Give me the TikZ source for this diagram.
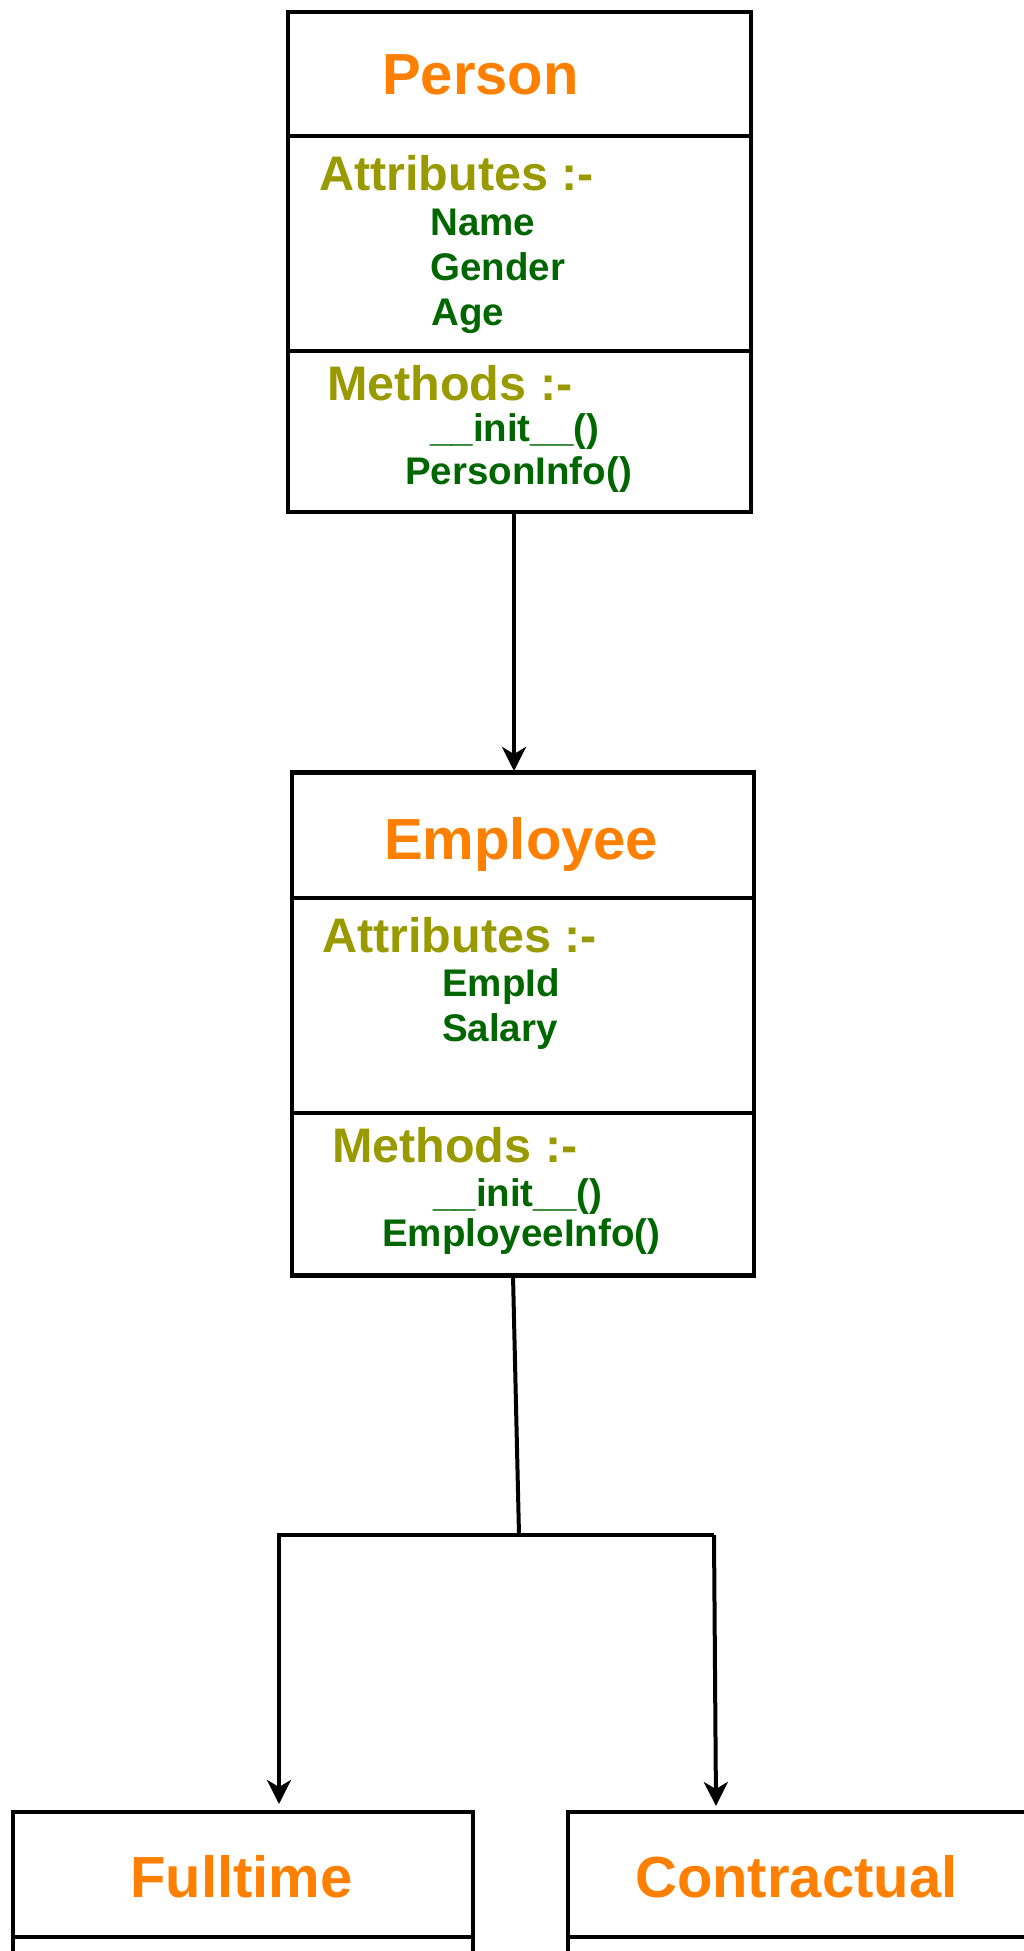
\documentclass[tikz,border=0pt]{standalone}
\usepackage{fontspec}
\setmainfont{Liberation Sans}
\usetikzlibrary{arrows.meta}
\definecolor{ttl}{HTML}{FF8000}
\definecolor{hdr}{HTML}{999900}
\definecolor{itm}{HTML}{006600}
\tikzset{
  box/.style={draw=black, line width=4.5pt, inner sep=0pt},
  divider/.style={line width=4.5pt},
  conn/.style={line width=4pt},
  arr/.style={conn, -{Stealth[length=24pt, width=24pt, inset=7pt]}},
  txt/.style={anchor=base west, inner sep=0pt, font=\bfseries},
  title/.style={txt, text=ttl, font=\bfseries\fontsize{58}{60}\selectfont},
  head/.style={txt, text=hdr, font=\bfseries\fontsize{48.5}{52}\selectfont},
  item/.style={txt, text=itm, font=\bfseries\fontsize{38.5}{42}\selectfont}
}
\begin{document}
\begin{tikzpicture}[x=1pt,y=-1pt]
\useasboundingbox (0,0) rectangle (1024,1951);
% Person
\node[box, minimum width=463pt, minimum height=500pt] (person) at (519.5,262) {};
\draw[divider] (person.west |- 0,136) coordinate (pd1a) -- (person.east |- 0,136) coordinate (pd1b);
\draw[divider] (person.west |- 0,351) coordinate (pd2a) -- (person.east |- 0,351) coordinate (pd2b);
\node[title] (ptitle) at (382,95) {Person};
\node[head] (pattr) at (319,190) {Attributes :-};
\node[item] (pname) at (430,235) {Name};
\node[item] (pgender) at (430,280) {Gender};
\node[item] (page) at (431,325) {Age};
\node[head] (pmeth) at (327,400) {Methods :-};
\node[item] (pinit) at (430,441) {\_\_init\_\_()};
\node[item] (pinfo) at (405,484) {PersonInfo()};
% Employee
\node[box, minimum width=462pt, minimum height=503pt] (emp) at (523,1024) {};
\draw[divider] (emp.west |- 0,898) coordinate (ed1a) -- (emp.east |- 0,898) coordinate (ed1b);
\draw[divider] (emp.west |- 0,1113) coordinate (ed2a) -- (emp.east |- 0,1113) coordinate (ed2b);
\node[title] (etitle) at (384,859) {Employee};
\node[head] (eattr) at (322,952) {Attributes :-};
\node[item] (eid) at (442,996) {EmpId};
\node[item] (esal) at (442,1041) {Salary};
\node[head] (emeth) at (332,1162) {Methods :-};
\node[item] (einit) at (433,1206) {\_\_init\_\_()};
\node[item] (einfo) at (382,1246) {EmployeeInfo()};
% Fulltime
\node[box, minimum width=460pt, minimum height=300pt] (full) at (243,1962) {};
\draw[divider] (full.west |- 0,1937) coordinate (fd1a) -- (full.east |- 0,1937) coordinate (fd1b);
\node[title] (ftitle) at (130,1897) {Fulltime};
% Contractual
\node[box, minimum width=532pt, minimum height=300pt] (contr) at (834,1962) {};
\draw[divider] (contr.west |- 0,1937) coordinate (cd1a) -- (contr.east |- 0,1937) coordinate (cd1b);
\node[title] (ctitle) at (635,1897) {Contractual};
% connectors
\coordinate (pout) at (514,513);
\coordinate (ein) at (514,771);
\coordinate (eout) at (513,1275);
\coordinate (junc) at (519,1535);
\coordinate (lend) at (277,1535);
\coordinate (rend) at (714,1535);
\coordinate (ltop) at (279,1535);
\coordinate (lin) at (279,1804);
\coordinate (rin) at (716,1806);
\draw[arr] (pout) -- (ein);
\draw[conn] (eout) -- (junc);
\draw[conn] (lend) -- (rend);
\draw[arr] (ltop) -- (lin);
\draw[arr] (rend) -- (rin);
\end{tikzpicture}
\end{document}
